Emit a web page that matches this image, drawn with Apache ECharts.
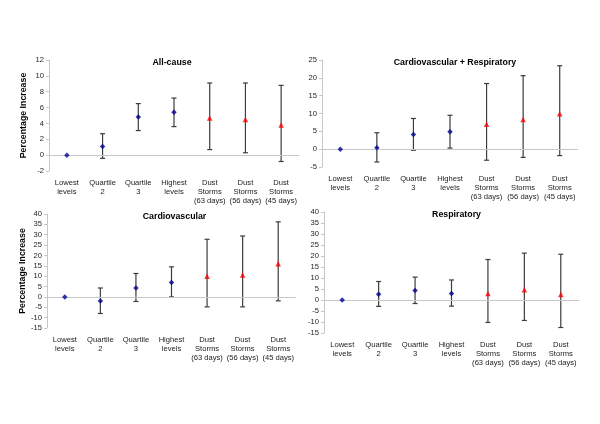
<!DOCTYPE html>
<html><head><meta charset="utf-8">
<script src="https://cdn.jsdelivr.net/npm/echarts@6/dist/echarts.min.js"></script>
<style>html,body{margin:0;padding:0;background:#fff}#c{width:600px;height:424px}</style>
</head><body><div id="c"></div>
<script>
const categories = ['Lowest\nlevels','Quartile\n2','Quartile\n3','Highest\nlevels','Dust\nStorms\n(63 days)','Dust\nStorms\n(56 days)','Dust\nStorms\n(45 days)'];
const titles = ['All-cause','Cardiovascular + Respiratory','Cardiovascular','Respiratory'];

const allEst = [0, 1.1, 4.8, 5.4, 4.7, 4.5, 3.8];
const allLow = [0, -0.4, 3.1, 3.6, 0.7, 0.3, -0.8];
const allHigh = [0, 2.7, 6.5, 7.2, 9.1, 9.1, 8.8];

const cvrEst = [0, 0.4, 4.1, 4.9, 7.0, 8.3, 9.9];
const cvrLow = [0, -3.6, -0.3, 0.3, -3.1, -2.3, -1.8];
const cvrHigh = [0, 4.6, 8.6, 9.5, 18.4, 20.6, 23.4];

const cvEst = [0, -2.0, 4.3, 7.0, 10.0, 10.6, 16.0];
const cvLow = [0, -8.0, -2.2, 0.0, -4.8, -4.8, -1.9];
const cvHigh = [0, 4.3, 11.3, 14.5, 27.8, 29.4, 36.2];

const resEst = [0, 2.6, 4.3, 3.0, 2.9, 4.7, 2.5];
const resLow = [0, -2.9, -1.6, -2.8, -10.2, -9.3, -12.5];
const resHigh = [0, 8.4, 10.4, 9.1, 18.4, 21.3, 20.8];

const yMin = [-2, -5, -15, -15];
const yMax = [12, 25, 40, 40];
const yStep = [2, 5, 5, 5];

const panels = [[allEst, allLow, allHigh],[cvrEst, cvrLow, cvrHigh],[cvEst, cvLow, cvHigh],[resEst, resLow, resHigh]];
const grids = [
  {left:49, top:60, width:250, height:111},
  {left:322, top:60, width:256, height:107},
  {left:47, top:214, width:249, height:114},
  {left:324, top:212, width:255, height:121}
];
const FONT = '"Liberation Sans", Arial, sans-serif';
const chart = echarts.init(document.getElementById('c'), null, {renderer:'canvas'});
const option = {
  backgroundColor:'#fff',
  animation:false,
  title: titles.map((t,i)=>({text:t, left: grids[i].left + grids[i].width/2 + (i===0?-7:(i===2?-2:0)), top: grids[i].top - 7, textAlign:'center',
    textStyle:{fontFamily:FONT, fontSize:8.8, fontWeight:'bold', color:'#000'}})),
  grid: grids,
  xAxis: grids.map((g,i)=>({type:'category', gridIndex:i, data:categories, boundaryGap:true,
    axisLine:{show:false}, axisTick:{show:false}, splitLine:{show:false},
    axisLabel:{interval:0, fontFamily:FONT, fontSize:7.6, lineHeight:9.2, color:'#222', margin:7}})),
  yAxis: grids.map((g,i)=>({type:'value', gridIndex:i, min:yMin[i], max:yMax[i], interval:yStep[i],
    name: (i===0||i===2)?'Percentage Increase':'', nameLocation:'middle', nameGap: i===0?21:20,
    nameTextStyle:{fontFamily:FONT, fontSize:8.8, fontWeight:'bold', color:'#000'},
    axisLine:{show:true, lineStyle:{color:'#c8c8c8', width:1}},
    axisTick:{show:true, length:3, lineStyle:{color:'#c8c8c8'}},
    splitLine:{show:false},
    axisLabel:{fontFamily:FONT, fontSize:7.6, color:'#222', margin:5}})),
  series: []
};
panels.forEach((p,i)=>{
  const [est, lo, hi] = p;
  option.series.push({type:'line', xAxisIndex:i, yAxisIndex:i, data:[], silent:true,
    markLine:{silent:true, symbol:'none', label:{show:false}, lineStyle:{color:'#c8c8c8', width:1, type:'solid'}, data:[{yAxis:0}]}});
  option.series.push({type:'custom', xAxisIndex:i, yAxisIndex:i, silent:true,
    data: categories.map((c,k)=>[k, lo[k], hi[k]]).filter((d,k)=>k>0),
    renderItem:(params, api)=>{
      const x = api.value(0);
      const a = api.coord([x, api.value(1)]);
      const b = api.coord([x, api.value(2)]);
      const w = 2.5;
      const st = {stroke:'#3c3c3c', lineWidth:1.2};
      return {type:'group', children:[
        {type:'line', shape:{x1:a[0], y1:a[1], x2:b[0], y2:b[1]}, style:st},
        {type:'line', shape:{x1:a[0]-w, y1:a[1], x2:a[0]+w, y2:a[1]}, style:st},
        {type:'line', shape:{x1:b[0]-w, y1:b[1], x2:b[0]+w, y2:b[1]}, style:st}
      ]};
    }, z:3});
  option.series.push({type:'scatter', xAxisIndex:i, yAxisIndex:i, symbol:'diamond', symbolSize:5.5,
    itemStyle:{color:'#000090'}, data: est.map((v,k)=>k<4?[k,v]:null).filter(d=>d), z:5});
  option.series.push({type:'scatter', xAxisIndex:i, yAxisIndex:i, symbol:'triangle', symbolSize:5.5,
    itemStyle:{color:'#ff0000'}, data: est.map((v,k)=>k>=4?[k,v]:null).filter(d=>d), z:5});
});
chart.setOption(option);
</script></body></html>
